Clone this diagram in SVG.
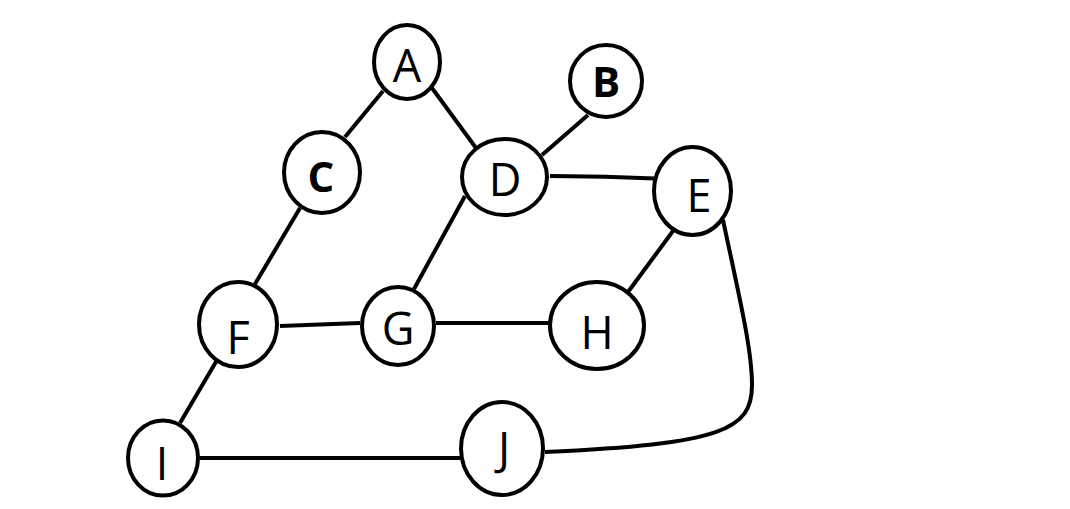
<svg xmlns="http://www.w3.org/2000/svg" width="1070" height="509" viewBox="0 0 1070 509">
<style>
.n{fill:#fff;stroke:#000;stroke-width:4}
.e{fill:none;stroke:#000;stroke-width:4}
.t{font-family:"Open Sans","Noto Sans","Liberation Sans",sans-serif;font-size:45px;text-anchor:middle;fill:#000}
.b{font-weight:bold;font-size:42px}
</style>
<rect width="1070" height="509" fill="#fff"/>
<g id="edges">
<line class="e" x1="383" y1="91" x2="345" y2="137"/>
<line class="e" x1="432" y1="88" x2="476" y2="148"/>
<line class="e" x1="588" y1="115" x2="542" y2="155"/>
<polyline class="e" points="550,176 605,176.7 655,178.5"/>
<line class="e" x1="300" y1="208" x2="255" y2="284"/>
<line class="e" x1="280" y1="326" x2="360" y2="323"/>
<line class="e" x1="220" y1="355" x2="180" y2="423"/>
<line class="e" x1="200" y1="458" x2="460" y2="458"/>
<line class="e" x1="465" y1="196" x2="414" y2="289"/>
<line class="e" x1="436" y1="323" x2="549" y2="323"/>
<line class="e" x1="673" y1="231" x2="628" y2="292"/>
<path class="e" d="M723,220 C740,300 752,350 752,385 C752,430 722,444 545,452"/>
</g>
<g id="A"><ellipse class="n" cx="407" cy="62" rx="33" ry="37"/><text class="t" x="407" y="82">A</text></g>
<g id="B"><ellipse class="n" cx="606" cy="81" rx="36" ry="36"/><text class="t b" x="606" y="97">B</text></g>
<g id="C"><ellipse class="n" cx="322" cy="172.5" rx="38" ry="40.5"/><text class="t b" x="321" y="192">C</text></g>
<g id="D"><ellipse class="n" cx="504.5" cy="177" rx="42.5" ry="38"/><text class="t" x="505" y="196">D</text></g>
<g id="E"><ellipse class="n" cx="692.5" cy="191" rx="38.5" ry="44"/><text class="t" x="699" y="212">E</text></g>
<g id="F"><ellipse class="n" cx="238" cy="324.5" rx="39" ry="42.5"/><text class="t" x="238" y="354">F</text></g>
<g id="G"><ellipse class="n" cx="398" cy="326" rx="36" ry="39"/><text class="t" x="398" y="345">G</text></g>
<g id="H"><ellipse class="n" cx="597" cy="325.5" rx="47" ry="43.5"/><text class="t" x="597" y="349">H</text></g>
<g id="I"><ellipse class="n" cx="163" cy="458" rx="35" ry="37.5"/><text class="t" x="162" y="480">I</text></g>
<g id="J"><ellipse class="n" cx="502" cy="448.5" rx="41" ry="46.5"/><text class="t" x="504" y="465">J</text></g>
</svg>
